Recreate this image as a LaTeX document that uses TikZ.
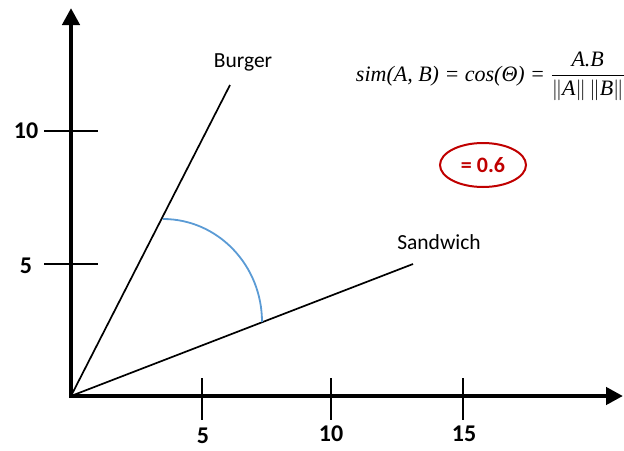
\documentclass[tikz,border=0pt]{standalone}
\usepackage{amsmath}
\usepackage{fontspec}
\setmainfont{Carlito}
\newfontfamily\formfont{Liberation Serif}
\usetikzlibrary{arrows.meta,shapes.geometric}
\definecolor{darkred}{RGB}{192,0,0}
\definecolor{arcblue}{RGB}{91,155,213}
\begin{document}
\begin{tikzpicture}[x=1pt,y=-1pt,
  axis/.style={line width=4.5pt,-{Triangle[length=17pt,width=17pt]}},
  tick/.style={line width=2.2pt},
  vec/.style={line width=1.7pt},
  lbl/.style={font=\fontsize{21.5}{24}\selectfont, inner sep=0pt},
  ticklbl/.style={font=\fontsize{24}{26}\selectfont\bfseries, inner sep=0pt}]
\useasboundingbox (0,0) rectangle (624,450);
% origin and axis ends
\coordinate (O) at (71,396);
\coordinate (Ytop) at (71,8);
\coordinate (Xend) at (623,396);
\coordinate (Ybot) at (71,398);
\coordinate (Xbeg) at (69,396);
\draw[axis] (Ybot) -- (Ytop);
\draw[axis] (Xbeg) -- (Xend);
% y ticks
\coordinate (y10a) at (44,131); \coordinate (y10b) at (98,131);
\coordinate (y5a) at (44,264); \coordinate (y5b) at (98,264);
\draw[tick] (y10a) -- (y10b);
\draw[tick] (y5a) -- (y5b);
\node[ticklbl] (ly10) at (26,131) {10};
\node[ticklbl] (ly5) at (26,266) {5};
% x ticks
\foreach \x/\t in {202/5,331/10,463/15}{
  \coordinate (xt\t a) at (\x,378); \coordinate (xt\t b) at (\x,420);
  \draw[tick] (xt\t a) -- (xt\t b);
}
\node[ticklbl] (lx5) at (203,436) {5};
\node[ticklbl] (lx10) at (331,434) {10};
\node[ticklbl] (lx15) at (464,434) {15};
% vectors
\coordinate (B) at (230,85);
\coordinate (S) at (413,264);
\draw[vec] (O) -- (B);
\draw[vec] (O) -- (S);
\node[lbl] (lb) at (243,62) {Burger};
\node[lbl] (ls) at (439,242) {Sandwich};
% angle arc
\coordinate (A1) at (163,219);
\draw[arcblue, line width=1.8pt] (A1) arc[start angle=-90, end angle=0, x radius=99, y radius=103];
% formula
\node[inner sep=0pt, anchor=base east, font=\fontsize{22}{24}\selectfont\formfont\itshape] (f) at (625,81)
  {sim(A, B) = cos(Θ) = $\dfrac{\text{A.B}}{\|\text{A}\|\,\|\text{B}\|}$};
% result
\node[draw=darkred, line width=2pt, ellipse, minimum width=86pt, minimum height=44pt,
  text=darkred, font=\fontsize{22}{24}\selectfont\bfseries] (r) at (483,165) {= 0.6};
\end{tikzpicture}
\end{document}
